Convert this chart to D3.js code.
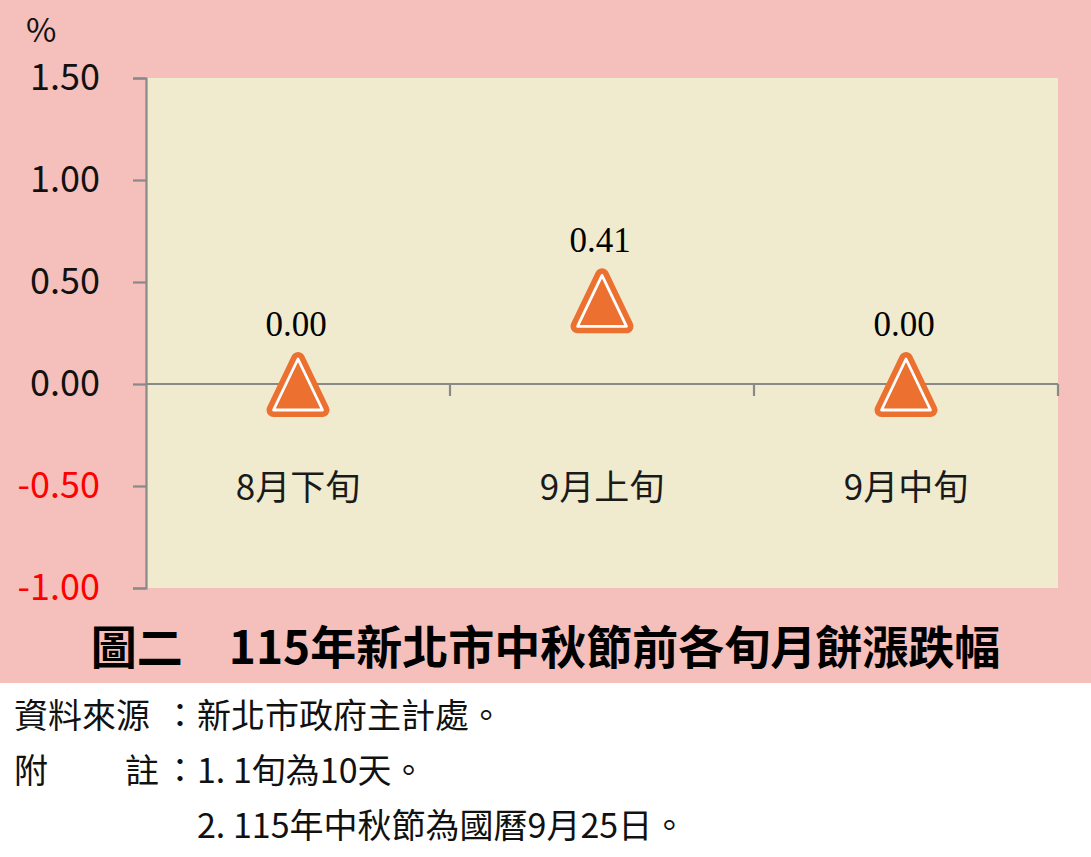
<!DOCTYPE html>
<html>
<head>
<meta charset="utf-8">
<script src="https://cdn.jsdelivr.net/npm/d3@7"></script>
<style>
  html, body { margin: 0; padding: 0; background: #ffffff; }
  svg { display: block; }
</style>
</head>
<body>
<div id="chart"></div>
<script>

// data
var categories = ['8月下旬', '9月上旬', '9月中旬'];
var changeValues = [0.00, 0.41, 0.00];
var yTicks = [-1.00, -0.50, 0.00, 0.50, 1.00, 1.50];
var titleText = '圖二　115年新北市中秋節前各旬月餅漲跌幅';
var noteLabels = ['資料來源', '附', '註'];
var noteTexts = ['新北市政府主計處。', '1. 1旬為10天。', '2. 115年中秋節為國曆9月25日。'];

var W = 1091, H = 857;
var cjk = '"Noto Sans CJK TC", "Noto Sans", sans-serif';
var serif = '"Liberation Serif", "DejaVu Serif", serif';
var pink = '#f5bfbb';
var plotBg = '#f0ebce';
var axisGray = '#898989';
var orange = '#ec702f';

var margin = {top: 78, right: 33, bottom: 269, left: 146};
var width = W - margin.left - margin.right,
    height = H - margin.top - margin.bottom;

var fmt = function(d){ return d3.format('.2f')(d).replace('\u2212', '-'); };

var svg = d3.select('#chart').append('svg')
  .attr('width', W)
  .attr('height', H);

// pink chart region, white notes region below
svg.append('rect').attr('x', 0).attr('y', 0).attr('width', W).attr('height', 683).attr('fill', pink);

var g = svg.append('g')
  .attr('transform', 'translate(' + margin.left + ',' + margin.top + ')');

g.append('rect')
  .attr('width', width)
  .attr('height', height)
  .attr('fill', plotBg);

var x = d3.scaleBand().domain(categories).range([0, width]).padding(0);
var y = d3.scaleLinear().domain([-1, 1.5]).range([height, 0]);

// y axis
var yAxis = g.append('g')
  .call(d3.axisLeft(y).tickValues(yTicks).tickSize(13).tickPadding(33).tickFormat(fmt));
yAxis.select('.domain').attr('stroke', axisGray).attr('stroke-width', 2.2);
yAxis.selectAll('.tick line').attr('stroke', axisGray).attr('stroke-width', 2.2);
yAxis.selectAll('.tick text')
  .style('font', '36px ' + cjk)
  .attr('fill', function(d){ return d < 0 ? '#ff0000' : '#111'; });

// zero line with category boundary ticks
var xAxis = g.append('g')
  .attr('transform', 'translate(0,' + y(0) + ')')
  .call(d3.axisBottom(x).tickSize(0).tickFormat(''));
xAxis.select('.domain').remove();
xAxis.append('line')
  .attr('x1', 0).attr('x2', width)
  .attr('stroke', axisGray).attr('stroke-width', 2.2);
var bounds = categories.map(function(c){ return x(c) + x.bandwidth(); });
xAxis.selectAll('.bnd')
  .data(bounds)
  .enter()
  .append('line')
  .attr('x1', function(d){ return d; })
  .attr('x2', function(d){ return d; })
  .attr('y1', 0).attr('y2', 12)
  .attr('stroke', axisGray).attr('stroke-width', 2.2);

// category labels
g.selectAll('.cat')
  .data(categories)
  .enter()
  .append('text')
  .attr('x', function(d){ return x(d) + x.bandwidth() / 2; })
  .attr('y', y(-0.5) + 14)
  .attr('text-anchor', 'middle')
  .style('font', '35px ' + cjk)
  .attr('fill', '#1a1a1a')
  .text(function(d){ return d; });

// triangle markers
function tri(cx, cy){
  var hw = 24.5, up = 25, dn = 26;
  return 'M' + cx + ',' + (cy - up) + 'L' + (cx + hw) + ',' + (cy + dn) +
          'L' + (cx - hw) + ',' + (cy + dn) + 'Z';
}
var pts = g.selectAll('.pt')
  .data(changeValues)
  .enter()
  .append('g')
  .attr('class', 'pt');

pts.append('path')
  .attr('d', function(d, i){ return tri(x(categories[i]) + x.bandwidth() / 2, y(d)); })
  .attr('fill', orange)
  .attr('stroke', orange)
  .attr('stroke-width', 14)
  .attr('stroke-linejoin', 'round');

pts.append('path')
  .attr('d', function(d, i){ return tri(x(categories[i]) + x.bandwidth() / 2, y(d)); })
  .attr('fill', orange)
  .attr('stroke', '#ffffff')
  .attr('stroke-width', 2.8)
  .attr('stroke-linejoin', 'round');

// value labels
pts.append('text')
  .attr('x', function(d, i){ return x(categories[i]) + x.bandwidth() / 2 - 2; })
  .attr('y', function(d){ return y(d) - 48; })
  .attr('text-anchor', 'middle')
  .style('font', '35px ' + serif)
  .attr('fill', '#000')
  .text(fmt);

// unit
svg.append('text')
  .attr('x', 26).attr('y', 42)
  .style('font', '33px ' + cjk)
  .attr('fill', '#111')
  .text('%');

// title
svg.append('text')
  .attr('x', W / 2).attr('y', 664)
  .attr('text-anchor', 'middle')
  .style('font', 'bold 46px ' + cjk)
  .attr('fill', '#000')
  .text(titleText);

// notes
var noteFont = '34px ' + cjk;
var rows = [728, 783, 838];
function note(xp, yp, t, anchor){
  svg.append('text').attr('x', xp).attr('y', yp)
    .attr('text-anchor', anchor || 'start')
    .style('font', noteFont).attr('fill', '#111').text(t);
}
note(14, rows[0], noteLabels[0]);
note(14, rows[1], noteLabels[1]);
note(125, rows[1], noteLabels[2]);
note(180, rows[0], '：', 'middle');
note(180, rows[1], '：', 'middle');
note(197, rows[0], noteTexts[0]);
note(197, rows[1], noteTexts[1]);
note(197, rows[2], noteTexts[2]);

</script>
</body>
</html>
